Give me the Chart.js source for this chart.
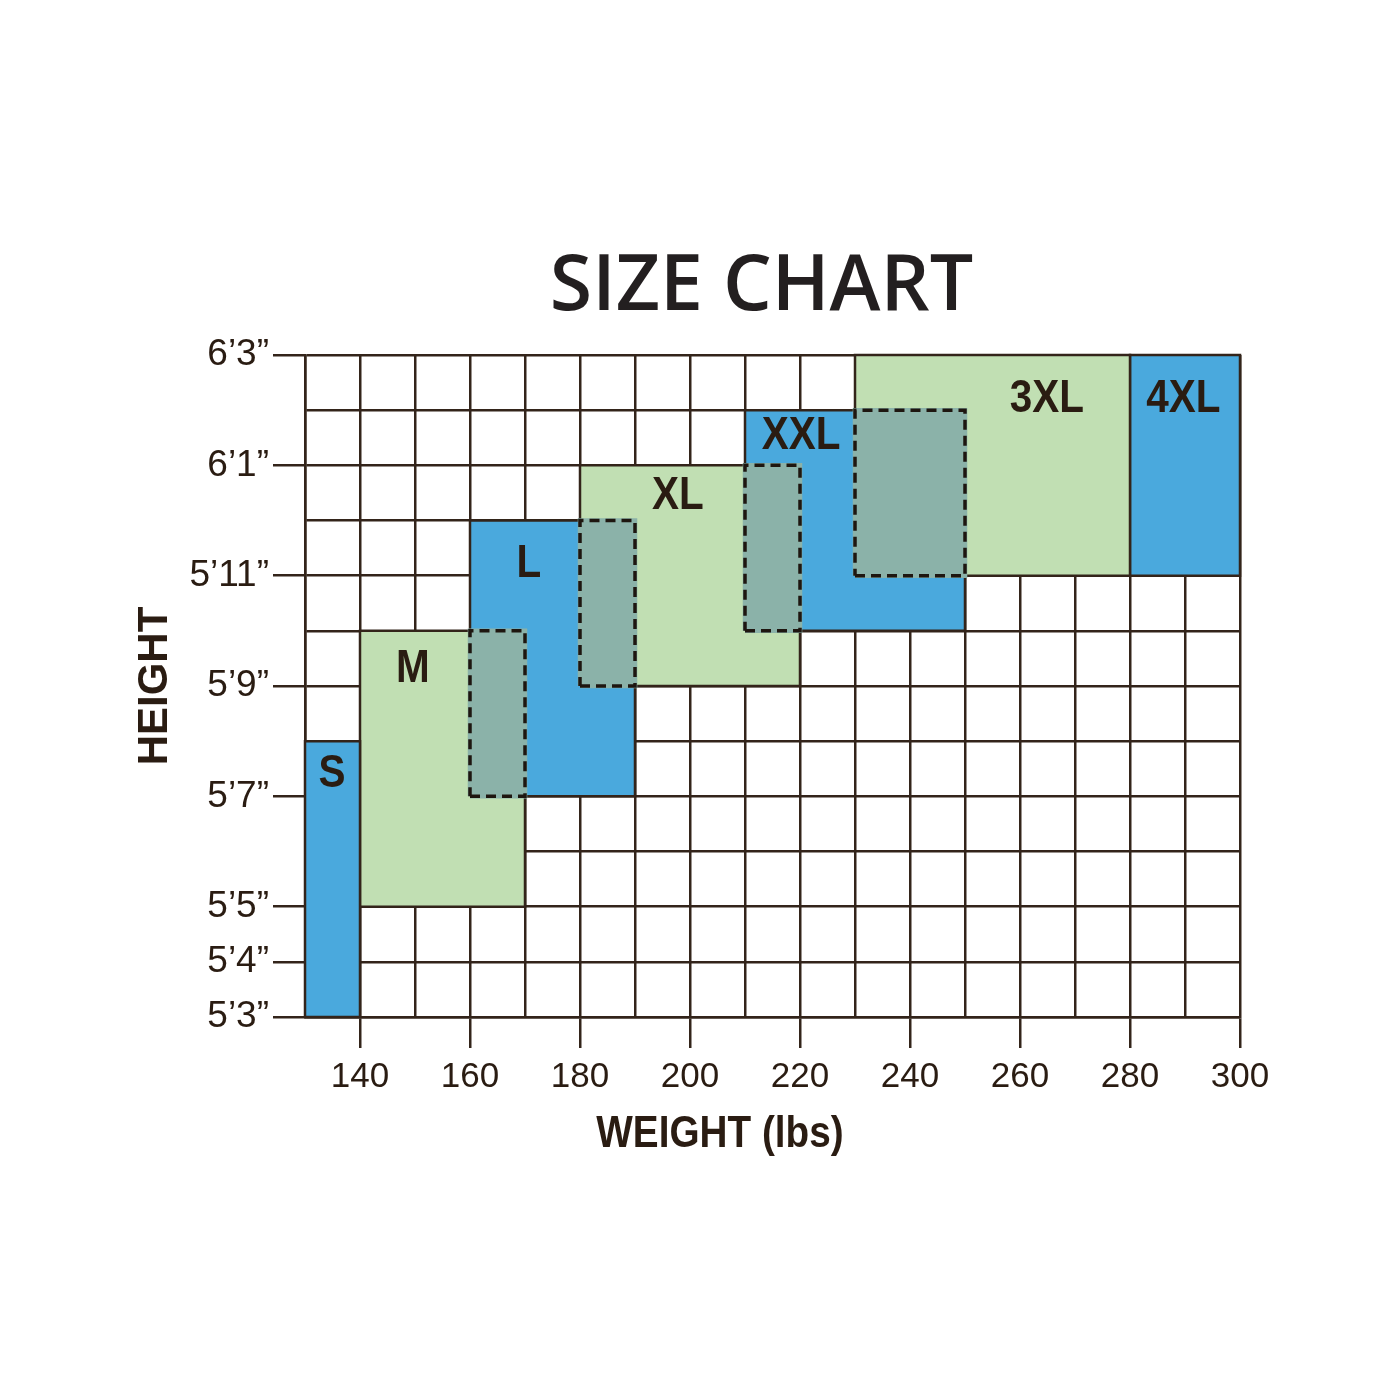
<!DOCTYPE html>
<html>
<head>
<meta charset="utf-8">
<script src="https://cdn.jsdelivr.net/npm/chart.js@4.4.1/dist/chart.umd.min.js"></script>
<style>
html,body{margin:0;padding:0;background:#ffffff;}
#wrap{width:1400px;height:1400px;position:relative;}
</style>
</head>
<body>
<div id="wrap"><canvas id="c"></canvas></div>
<script>
// ---- data ----
const sizeNames   = ['S', 'M', 'L', 'XL', 'XXL', '3XL', '4XL'];
const weightFrom  = [130, 140, 160, 180, 210, 230, 280];
const weightTo    = [140, 170, 190, 220, 250, 280, 300];
const heightFrom  = [63, 65, 67, 69, 70, 71, 71];
const heightTo    = [68, 70, 72, 73, 74, 75, 75];
// anchor (in data units) of each size's name
const labelWeight = [134.9, 149.6, 170.7, 197.8, 220.2, 264.9, 289.7];
const labelHeight = [67.46, 69.38, 71.27, 72.5, 73.6, 74.27, 74.27];

const heightTickValues = [63, 64, 65, 67, 69, 71, 73, 75];
const heightTickLabels = ['5’3”', '5’4”', '5’5”', '5’7”', '5’9”', '5’11”', '6’1”', '6’3”'];
const weightTickValues = [140, 160, 180, 200, 220, 240, 260, 280, 300];
const weightTickLabels = ['140', '160', '180', '200', '220', '240', '260', '280', '300'];

// ---- styles ----
const BLUE = '#4aa9dd';
const GREEN = '#c1dfb3';
const OVERLAP = '#8bb2a9';
const GRID = '#33241a';
const TEXT = '#2a1c12';
const DASH = '#1e1610';
const sizeColors = [BLUE, GREEN, BLUE, GREEN, BLUE, GREEN, BLUE];

function rectPoints(x0, x1, y0, y1) {
  return [{x: x0, y: y0}, {x: x1, y: y0}, {x: x1, y: y1}, {x: x0, y: y1}, {x: x0, y: y0}];
}

const base = {
  pointRadius: 0, pointHoverRadius: 0, tension: 0, clip: false,
  borderJoinStyle: 'miter', borderCapStyle: 'butt', spanGaps: true
};

const datasets = [];
// size boxes (drawn first)
sizeNames.forEach((name, i) => {
  datasets.push(Object.assign({}, base, {
    label: name,
    data: rectPoints(weightFrom[i], weightTo[i], heightFrom[i], heightTo[i]),
    fill: 'shape',
    backgroundColor: sizeColors[i],
    borderColor: GRID,
    borderWidth: 2.5,
    order: 3
  }));
});
// overlaps between neighbouring sizes
for (let i = 0; i < sizeNames.length - 1; i++) {
  const x0 = Math.max(weightFrom[i], weightFrom[i + 1]);
  const x1 = Math.min(weightTo[i], weightTo[i + 1]);
  const y0 = Math.max(heightFrom[i], heightFrom[i + 1]);
  const y1 = Math.min(heightTo[i], heightTo[i + 1]);
  if (x1 > x0 && y1 > y0) {
    const pts = rectPoints(x0, x1, y0, y1);
    datasets.push(Object.assign({}, base, {
      label: sizeNames[i] + '/' + sizeNames[i + 1],
      data: pts, fill: 'shape', backgroundColor: OVERLAP,
      borderColor: OVERLAP, borderWidth: 4.5, order: 2
    }));
    datasets.push(Object.assign({}, base, {
      label: sizeNames[i] + '/' + sizeNames[i + 1] + ' edge',
      data: pts, fill: false, borderColor: DASH, borderWidth: 3.5,
      borderDash: [10, 6], order: 1
    }));
  }
}

const textPlugin = {
  id: 'sizeText',
  afterDatasetsDraw(chart) {
    const {ctx, scales: {x, y}} = chart;
    ctx.save();
    ctx.fillStyle = TEXT;
    ctx.font = 'bold 46px "Liberation Sans", Arial, sans-serif';
    ctx.textAlign = 'center';
    ctx.textBaseline = 'alphabetic';
    sizeNames.forEach((name, i) => {
      const px = x.getPixelForValue(labelWeight[i]);
      const py = y.getPixelForValue(labelHeight[i]);
      ctx.save();
      ctx.translate(px, py + 16.5);
      ctx.scale(0.88, 1);
      ctx.fillText(name, 0, 0);
      ctx.restore();
    });
    ctx.restore();
  },
  afterDraw(chart) {
    const {ctx, chartArea} = chart;
    const cx = (chartArea.left + chartArea.right) / 2;
    ctx.save();
    ctx.fillStyle = '#231f20';
    ctx.font = '600 77px "Open Sans", sans-serif';
    ctx.textAlign = 'center';
    ctx.textBaseline = 'alphabetic';
    ctx.fillText('SIZE CHART', cx - 11, chartArea.top - 45);
    ctx.fillStyle = TEXT;
    ctx.font = 'bold 44px "Liberation Sans", Arial, sans-serif';
    ctx.translate(cx - 52.5, chartArea.bottom + 130);
    ctx.scale(0.88, 1);
    ctx.fillText('WEIGHT (lbs)', 0, 0);
    ctx.restore();
  }
};

new Chart(document.getElementById('c'), {
  type: 'line',
  data: {datasets},
  plugins: [textPlugin],
  options: {
    responsive: true,
    maintainAspectRatio: false,
    animation: false,
    events: [],
    layout: {padding: {top: 355, left: 130, right: 160, bottom: 303}},
    plugins: {legend: {display: false}, tooltip: {enabled: false}, title: {display: false}},
    scales: {
      x: {
        type: 'linear', position: 'bottom', min: 130, max: 300,
        afterFit(scale) { scale.height = 80; },
        border: {color: GRID, width: 2.5},
        grid: {
          color: GRID, lineWidth: 2.5, drawTicks: true, tickLength: 31, tickWidth: 2.5,
          tickColor: (c) => (c.tick && weightTickValues.includes(c.tick.value)) ? GRID : 'rgba(0,0,0,0)'
        },
        ticks: {
          stepSize: 10, autoSkip: false, maxRotation: 0, minRotation: 0, padding: 8,
          color: TEXT, font: {family: '"Liberation Sans", Arial, sans-serif', size: 35},
          callback: (v) => { const k = weightTickValues.indexOf(v); return k >= 0 ? weightTickLabels[k] : ''; }
        }
      },
      y: {
        type: 'linear', position: 'left', min: 63, max: 75,
        afterFit(scale) { scale.width = 175; },
        border: {color: GRID, width: 2.5},
        grid: {
          color: GRID, lineWidth: 2.5, drawTicks: true, tickLength: 32, tickWidth: 2.5,
          tickColor: (c) => (c.tick && heightTickValues.includes(c.tick.value)) ? GRID : 'rgba(0,0,0,0)'
        },
        ticks: {
          stepSize: 1, autoSkip: false, padding: 4,
          color: TEXT, font: {family: '"Liberation Sans", Arial, sans-serif', size: 37},
          callback: (v) => { const k = heightTickValues.indexOf(v); return k >= 0 ? heightTickLabels[k] : ''; }
        },
        title: {
          display: true, text: 'HEIGHT', color: TEXT, padding: {top: 0, bottom: 0},
          font: {family: '"Liberation Sans", Arial, sans-serif', size: 42, weight: 'bold'}
        }
      }
    }
  }
});
</script>
</body>
</html>
